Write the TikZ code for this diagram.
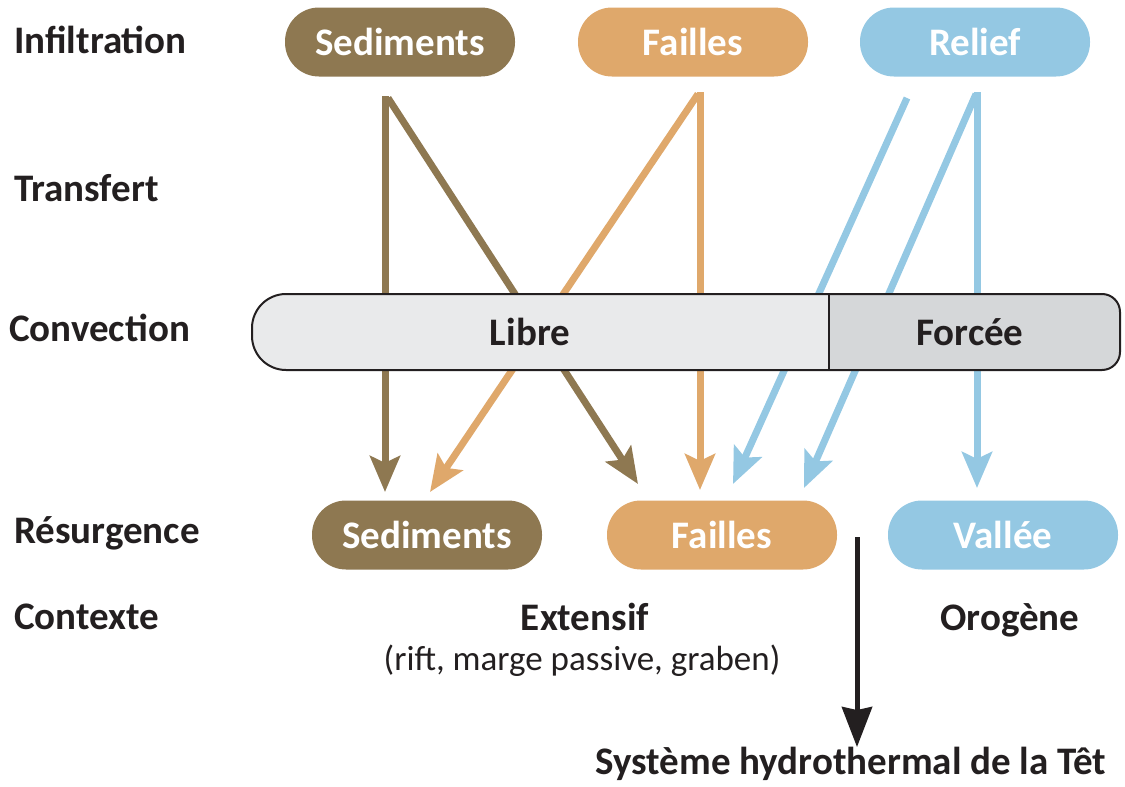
\documentclass[tikz,border=0pt]{standalone}
\usepackage{fontspec}
\setmainfont{Carlito}
\usetikzlibrary{arrows.meta}
\definecolor{cbrown}{HTML}{8E7851}
\definecolor{corange}{HTML}{DFA86B}
\definecolor{cblue}{HTML}{94C8E3}
\definecolor{ctext}{HTML}{231F20}
\definecolor{cbar}{HTML}{E9EAEB}
\definecolor{cforce}{HTML}{D5D7D9}
\tikzset{
  pill/.style={rectangle, rounded corners=34pt, minimum width=230pt, minimum height=69pt,
    text=white, font=\fontsize{39}{44}\selectfont\bfseries, inner sep=0pt},
  rowlab/.style={anchor=west, text=ctext, font=\fontsize{39}{44}\selectfont\bfseries, inner sep=0pt},
  ctx/.style={text=ctext, font=\fontsize{39}{44}\selectfont\bfseries, inner sep=0pt},
  flow/.style={line width=7pt, -{Stealth[length=36pt, width=30pt, inset=7pt]}},
}
\begin{document}
\begin{tikzpicture}[x=1pt,y=-1pt]
\useasboundingbox (0,0) rectangle (1125,787);
% row labels
\node[rowlab] (inf) at (14,40) {Infiltration};
\node[rowlab] (tra) at (14,188) {Transfert};
\node[rowlab] (con) at (9,328) {Convection};
\node[rowlab] (res) at (14,533) {Résurgence};
\node[rowlab] (ctx) at (14,617) {Contexte};
% top pills
\node[pill, fill=cbrown] (sedT) at (400,42) {Sediments};
\node[pill, fill=corange] (faiT) at (693,42) {Failles};
\node[pill, fill=cblue] (relT) at (975,42) {Relief};
% bottom pills
\node[pill, fill=cbrown] (sedB) at (427,535) {Sediments};
\node[pill, fill=corange] (faiB) at (722,535) {Failles};
\node[pill, fill=cblue] (valB) at (1003,535) {Vallée};
% arrow endpoints
\coordinate (b0) at (385,96);
\coordinate (b1) at (385,492);
\coordinate (b0d) at (388,98);
\coordinate (b2) at (638,484);
\coordinate (o0d) at (698,94);
\coordinate (o1) at (430,492);
\coordinate (o0) at (700,92);
\coordinate (o2) at (700,490);
\coordinate (l0) at (907,98);
\coordinate (l1) at (733,484);
\coordinate (r0d) at (976,94);
\coordinate (r1) at (804,488);
\coordinate (r0) at (977,92);
\coordinate (r2) at (977,488);
% flows
\draw[flow, cbrown] (b0) -- (b1);
\draw[flow, cbrown] (b0d) -- (b2);
\draw[flow, corange] (o0d) -- (o1);
\draw[flow, corange] (o0) -- (o2);
\draw[flow, cblue] (l0) -- (l1);
\draw[flow, cblue] (r0d) -- (r1);
\draw[flow, cblue] (r0) -- (r2);
% convection bar
\fill[cforce] (600,294) [rounded corners=18pt] -- (1120,294) -- (1120,370) -- (600,370) -- cycle;
\fill[cbar] (829,294) -- (829,370) [rounded corners=34pt] -- (252,370) -- (252,294) [sharp corners] -- cycle;
\draw[ctext, line width=2pt] (600,294) [rounded corners=18pt] -- (1120,294) -- (1120,370) -- (600,370) [rounded corners=34pt] -- (252,370) -- (252,294) [sharp corners] -- cycle;
\draw[ctext, line width=1.5pt] (829,294) -- (829,370);
\node[ctx] (libre) at (530,332) {Libre};
\node[ctx] (forcee) at (970,332) {Forcée};
% context
\node[ctx] (ext) at (585,617) {Extensif};
\node[text=ctext, font=\fontsize{35}{40}\selectfont, inner sep=0pt] (extd) at (582,661) {(rift, marge passive, graben)};
\node[ctx] (oro) at (1010,620) {Orogène};
\node[ctx] (tet) at (851,764) {Système hydrothermal de la Têt};
\coordinate (k0) at (857,537);
\draw[line width=5pt, ctext, -{Stealth[length=40pt, width=30pt, inset=3pt]}] (k0) -- (tet.north -| k0);
\end{tikzpicture}
\end{document}
